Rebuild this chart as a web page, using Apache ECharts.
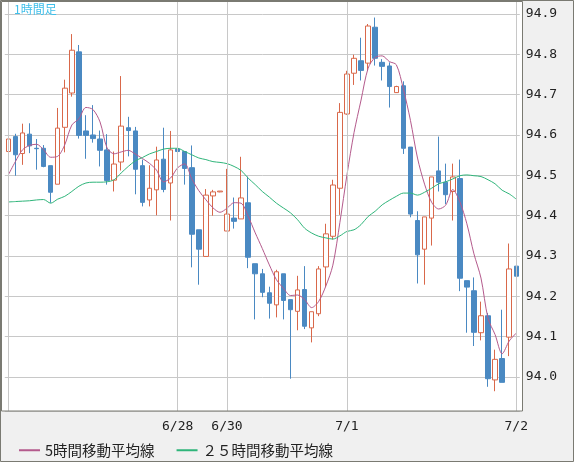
<!DOCTYPE html>
<html><head><meta charset="utf-8">
<script src="https://cdn.jsdelivr.net/npm/echarts@6/dist/echarts.min.js"></script>
<style>html,body{margin:0;padding:0;background:#f0f0f0}#c{width:574px;height:462px}</style>
</head><body><div id="c"></div>
<script>
const opens=[94.559,94.596,94.554,94.602,94.567,94.567,94.524,94.478,94.619,94.704,94.806,94.610,94.600,94.590,94.563,94.488,94.533,94.618,94.610,94.524,94.439,94.464,94.540,94.481,94.565,94.559,94.519,94.365,94.299,94.449,94.459,94.362,94.394,94.392,94.432,94.281,94.256,94.209,94.179,94.256,94.192,94.163,94.217,94.122,94.157,94.273,94.349,94.468,94.652,94.753,94.784,94.778,94.867,94.780,94.771,94.705,94.722,94.570,94.388,94.317,94.394,94.511,94.483,94.460,94.492,94.239,94.214,94.110,94.152,93.993,94.046,94.099,94.275];
const closes=[94.590,94.551,94.605,94.573,94.566,94.522,94.458,94.617,94.716,94.810,94.599,94.599,94.591,94.562,94.487,94.528,94.622,94.611,94.515,94.433,94.468,94.538,94.465,94.563,94.559,94.517,94.354,94.317,94.451,94.459,94.461,94.404,94.386,94.444,94.297,94.256,94.210,94.183,94.261,94.190,94.167,94.216,94.126,94.162,94.268,94.355,94.476,94.656,94.751,94.790,94.760,94.870,94.790,94.770,94.720,94.720,94.567,94.404,94.303,94.397,94.496,94.483,94.452,94.496,94.245,94.223,94.111,94.152,93.996,94.044,93.987,94.268,94.250];
const lows=[94.506,94.499,94.526,94.555,94.514,94.520,94.432,94.478,94.557,94.695,94.591,94.541,94.581,94.522,94.477,94.460,94.512,94.547,94.453,94.423,94.423,94.401,94.458,94.388,94.497,94.477,94.272,94.229,94.299,94.400,94.458,94.362,94.368,94.392,94.270,94.143,94.198,94.145,94.148,94.143,93.996,94.116,94.119,94.086,94.151,94.223,94.341,94.402,94.650,94.724,94.735,94.760,94.772,94.735,94.668,94.704,94.553,94.396,94.232,94.229,94.326,94.460,94.429,94.388,94.213,94.110,94.077,94.091,93.976,93.965,93.987,94.052,94.235];
const highs=[94.632,94.603,94.628,94.629,94.590,94.575,94.524,94.667,94.737,94.850,94.823,94.649,94.674,94.611,94.602,94.559,94.746,94.645,94.620,94.539,94.525,94.571,94.618,94.610,94.598,94.559,94.574,94.365,94.466,94.464,94.461,94.516,94.445,94.546,94.497,94.281,94.268,94.224,94.266,94.256,94.192,94.251,94.275,94.162,94.275,94.380,94.489,94.679,94.759,94.799,94.841,94.875,94.891,94.788,94.780,94.722,94.733,94.570,94.411,94.397,94.496,94.596,94.529,94.529,94.539,94.239,94.247,94.187,94.159,94.068,94.167,94.331,94.339];
const ma5Lead=[94.501,94.534,94.563,94.574];
const ma25=[94.434,94.435,94.436,94.437,94.439,94.440,94.431,94.441,94.448,94.460,94.473,94.481,94.483,94.483,94.484,94.489,94.506,94.522,94.536,94.544,94.553,94.559,94.565,94.567,94.567,94.559,94.551,94.543,94.539,94.534,94.532,94.529,94.522,94.512,94.493,94.477,94.460,94.446,94.431,94.419,94.407,94.390,94.369,94.357,94.349,94.345,94.342,94.350,94.361,94.365,94.378,94.398,94.411,94.427,94.438,94.448,94.456,94.456,94.451,94.458,94.468,94.479,94.484,94.491,94.499,94.501,94.499,94.497,94.489,94.479,94.463,94.454,94.441];
const dateLabels={24:'6/28',31:'6/30',48:'7/1',72:'7/2'};
const legendNames=['5時間移動平均線','２５時間移動平均線'];

const cats=opens.map((_,i)=>String(i));
const ohlc=opens.map((o,i)=>[o,closes[i],lows[i],highs[i]]);
const ma5=closes.map((c,i)=>i<4?ma5Lead[i]:+((closes[i]+closes[i-1]+closes[i-2]+closes[i-3]+closes[i-4])/5).toFixed(4));
const vlines=[0,24,31,48,72].map(i=>({xAxis:String(i)}));

const chart=echarts.init(document.getElementById('c'));
chart.setOption({
  backgroundColor:'#f0f0f0',
  animation:false,
  graphic:[
    {type:'rect',shape:{x:1,y:1,width:522,height:410},style:{fill:'#fff'},z:-10,silent:true},
    {type:'rect',shape:{x:1.5,y:1.5,width:521,height:409.5},style:{fill:null,stroke:'#7a7a72',lineWidth:1},z:50,silent:true},
    {type:'rect',shape:{x:0.5,y:0.5,width:573,height:461},style:{fill:null,stroke:'#7a7a72',lineWidth:1},z:50,silent:true},
    {type:'text',left:14,top:3,style:{text:'1時間足',fill:'#3fbfea',font:'12px "Noto Sans CJK JP"'},z:60}
  ],
  legend:{left:14,top:438,itemWidth:21,itemHeight:2,icon:'rect',itemGap:22,
    textStyle:{color:'#222',fontSize:14.5,fontFamily:'"Noto Sans CJK JP"'},data:legendNames},
  grid:{left:4.8,width:515,top:1,height:410},
  xAxis:{type:'category',data:cats,boundaryGap:true,
    axisLine:{show:false},axisTick:{show:false},splitLine:{show:false},
    axisLabel:{interval:0,margin:9,color:'#222',fontSize:13,fontFamily:'"DejaVu Sans Mono"',
      formatter:(v,i)=>dateLabels[i]||''}},
  yAxis:{type:'value',position:'right',min:93.916,max:94.932,splitNumber:10,
    axisLine:{show:false},axisTick:{show:false},
    splitLine:{lineStyle:{color:'#c8c8c8',width:1}},
    axisLabel:{showMinLabel:false,showMaxLabel:false,margin:6,color:'#222',fontSize:13,fontFamily:'"DejaVu Sans Mono"',
      formatter:v=>v.toFixed(1)}},
  series:[
    {type:'line',data:[],silent:true,z:1,markLine:{silent:true,symbol:'none',label:{show:false},
      lineStyle:{color:'#c8c8c8',type:'solid',width:1},data:vlines}},
    {type:'candlestick',data:ohlc,barWidth:5,z:3,
      itemStyle:{color:'#ffffff',borderColor:'#d9684a',color0:'#4a89c2',borderColor0:'#4a89c2',borderWidth:1}},
    {name:legendNames[0],type:'line',data:ma5,symbol:'none',smooth:0.3,z:4,lineStyle:{color:'#b45a8c',width:1},itemStyle:{color:'#b45a8c'}},
    {name:legendNames[1],type:'line',data:ma25,symbol:'none',smooth:0.3,z:4,lineStyle:{color:'#2fb57a',width:1},itemStyle:{color:'#2fb57a'}}
  ]
});
</script></body></html>
